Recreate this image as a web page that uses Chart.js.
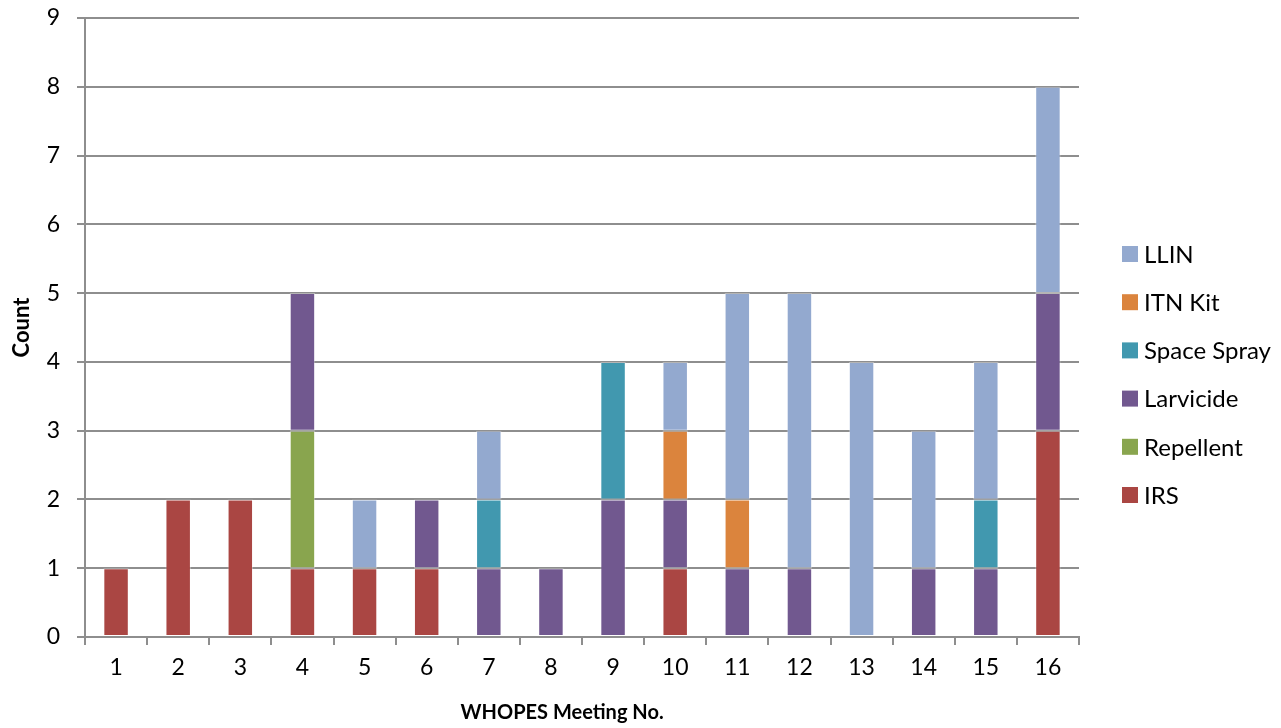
<!DOCTYPE html>
<html>
<head>
<meta charset="utf-8">
<title>WHOPES Meeting No.</title>
<script src="https://cdn.jsdelivr.net/npm/chart.js@4/dist/chart.umd.min.js"></script>
<style>
  html, body { margin: 0; padding: 0; background: #ffffff; }
  #wrap { width: 1281px; height: 728px; }
</style>
</head>
<body>
<div id="wrap"><canvas id="chart" width="1281" height="728"></canvas></div>
<script>
// Meeting numbers along the x axis
const categories = ['1','2','3','4','5','6','7','8','9','10','11','12','13','14','15','16'];

// Counts per product type at each meeting (stacked bottom to top)
const irs        = [1, 2, 2, 1, 1, 1, 0, 0, 0, 1, 0, 0, 0, 0, 0, 3];
const repellent  = [0, 0, 0, 2, 0, 0, 0, 0, 0, 0, 0, 0, 0, 0, 0, 0];
const larvicide  = [0, 0, 0, 2, 0, 1, 1, 1, 2, 1, 1, 1, 0, 1, 1, 2];
const spaceSpray = [0, 0, 0, 0, 0, 0, 1, 0, 2, 0, 0, 0, 0, 0, 1, 0];
const itnKit     = [0, 0, 0, 0, 0, 0, 0, 0, 0, 1, 1, 0, 0, 0, 0, 0];
const llin       = [0, 0, 0, 0, 1, 0, 1, 0, 0, 1, 3, 4, 4, 2, 2, 3];

// Value axis ticks
const yTicks = [0, 1, 2, 3, 4, 5, 6, 7, 8, 9];

const seriesNames = ['IRS', 'Repellent', 'Larvicide', 'Space Spray', 'ITN Kit', 'LLIN'];
const seriesValues = [irs, repellent, larvicide, spaceSpray, itnKit, llin];
const seriesColors = ['#AA4643', '#89A54E', '#71588F', '#4198AF', '#DB843D', '#93A9CF'];

const FONT = 'Lato, "Open Sans", "DejaVu Sans", sans-serif';
const GRID = '#8e8e8e';

const datasets = seriesNames.map((name, i) => ({
  label: name,
  data: seriesValues[i].map(v => (v === 0 ? null : v)),
  backgroundColor: seriesColors[i],
  borderColor: 'rgba(255,255,255,0.35)',
  borderWidth: 1,
  borderSkipped: false,
  barPercentage: 0.41,
  categoryPercentage: 1.0
}));

// Legend on the right, listed top-down in reverse stacking order
const sideLegend = {
  id: 'sideLegend',
  afterDraw(chart) {
    const ctx = chart.ctx;
    const items = chart.data.datasets.slice().reverse();
    const x0 = chart.chartArea.right + 43;
    const y0 = 254;
    const step = 48.2;
    ctx.save();
    ctx.font = '24px ' + FONT;
    ctx.textBaseline = 'middle';
    ctx.textAlign = 'left';
    items.forEach((ds, i) => {
      const cy = y0 + i * step;
      ctx.fillStyle = ds.backgroundColor;
      ctx.fillRect(x0, cy - 8, 16, 16);
      ctx.fillStyle = '#000000';
      ctx.fillText(ds.label, x0 + 22, cy + 1);
    });
    ctx.restore();
  }
};

// Horizontal axis title
const xTitle = {
  id: 'xTitle',
  afterDraw(chart) {
    const ctx = chart.ctx;
    const a = chart.chartArea;
    ctx.save();
    ctx.font = 'bold 20px ' + FONT;
    ctx.fillStyle = '#000000';
    ctx.textAlign = 'center';
    ctx.textBaseline = 'middle';
    ctx.fillText('WHOPES Meeting No.', a.left + (a.right - a.left) * 0.48, 713);
    ctx.restore();
  }
};

new Chart(document.getElementById('chart'), {
  type: 'bar',
  data: { labels: categories, datasets },
  plugins: [sideLegend, xTitle],
  options: {
    responsive: false,
    animation: false,
    layout: { padding: { top: 18, right: 202, left: 0, bottom: 0 } },
    plugins: {
      legend: { display: false },
      tooltip: { enabled: false }
    },
    scales: {
      x: {
        stacked: true,
        offset: true,
        grid: {
          display: true,
          drawOnChartArea: false,
          drawTicks: true,
          tickLength: 8,
          offset: true,
          color: GRID,
          lineWidth: 2
        },
        border: { display: true, color: GRID, width: 2 },
        ticks: {
          color: '#000000',
          font: { family: FONT, size: 23 },
          padding: 9,
          maxRotation: 0,
          autoSkip: false
        },
        afterFit(scale) { scale.height = 91; }
      },
      y: {
        stacked: true,
        min: 0,
        max: yTicks[yTicks.length - 1],
        afterBuildTicks(scale) { scale.ticks = yTicks.map(v => ({ value: v })); },
        grid: {
          color: GRID,
          lineWidth: 2,
          drawTicks: true,
          tickLength: 8
        },
        border: { display: true, color: GRID, width: 2 },
        ticks: {
          color: '#000000',
          font: { family: FONT, size: 23 },
          padding: 17
        },
        title: {
          display: true,
          text: 'Count',
          color: '#000000',
          font: { family: FONT, size: 22, weight: 'bold' },
          padding: { top: 9, bottom: 0 }
        },
        afterFit(scale) {
          scale.width = 85;
          // the top label fits inside the layout padding
          scale.paddingTop = 0;
          scale.paddingBottom = 0;
        }
      }
    }
  }
});
</script>
</body>
</html>
